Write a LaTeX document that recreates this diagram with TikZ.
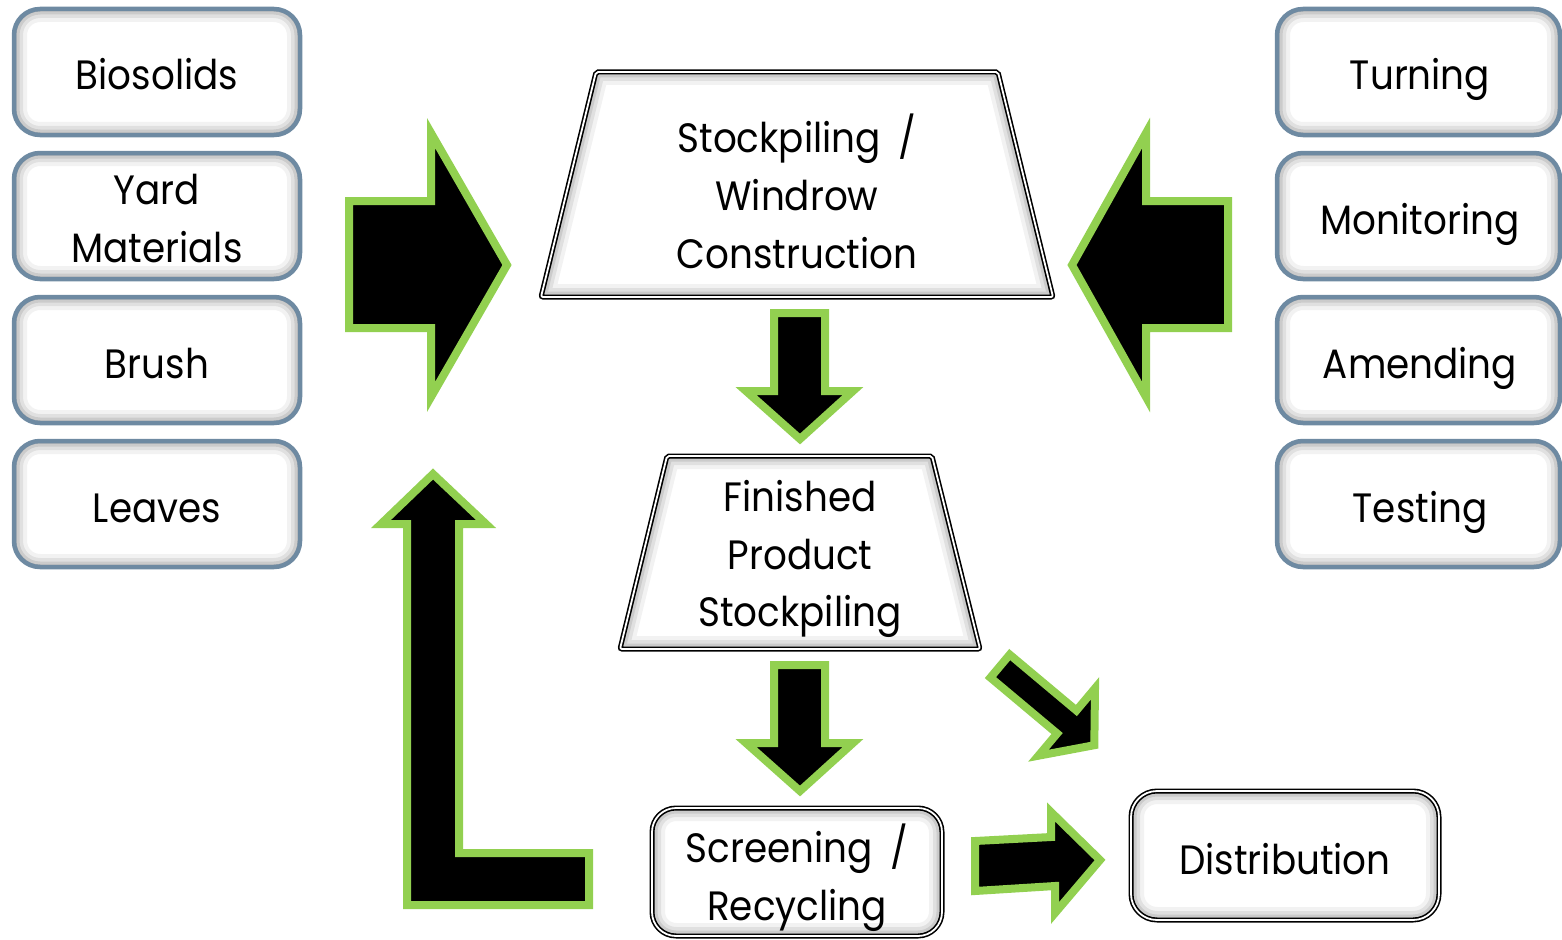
\documentclass[tikz,border=0pt]{standalone}
\usepackage{fontspec}
\setmainfont{Poppins}[FakeStretch=0.91]
\definecolor{agreen}{HTML}{92D050}
\definecolor{boxblue}{HTML}{6E8AA2}
\newcommand\lbl{\fontsize{41}{58}\selectfont}
\newcommand\innerglow[1]{%
  \begin{scope}
    \clip #1;
    \foreach \w/\o in {26/0.05,18/0.07,11/0.09,5/0.12}{\draw[line width=\w pt,black,opacity=\o] #1;}
  \end{scope}}
\tikzset{
  glow/.style={path picture={\foreach \w/\o in {26/0.05,18/0.07,11/0.09,5/0.12}{\draw[line width=\w pt,black,opacity=\o,rounded corners=#1] (path picture bounding box.south west) rectangle (path picture bounding box.north east);}}},
  bluebox/.style={draw=boxblue, line width=4.5pt, rounded corners=26pt, fill=white, minimum height=126pt, inner sep=0pt, outer sep=0pt, glow=26pt},
  dblbox/.style={draw=black, line width=1.6pt, double=white, double distance=1.8pt, rounded corners=#1, fill=white, inner sep=0pt, outer sep=0pt, glow=#1},
  dbl/.style={draw=black, line width=1.6pt, double=white, double distance=1.8pt, rounded corners=2pt},
  txt/.style={anchor=base, font=\lbl, inner sep=0pt},
  barrow/.style={fill=black, draw=agreen, line width=8pt, line join=miter, miter limit=10},
}
\begin{document}
\begin{tikzpicture}[x=1pt,y=-1pt]
\useasboundingbox (0,0) rectangle (1562,939);

% left input boxes
\node[bluebox, minimum width=286pt] (bio)   at (157,72)  {};
\node[bluebox, minimum width=286pt] (yard)  at (157,216) {};
\node[bluebox, minimum width=286pt] (brush) at (157,360) {};
\node[bluebox, minimum width=286pt] (leaf)  at (157,504) {};
\node[txt] (biot)   at (157,90)  {Biosolids};
\node[txt] (yardt1) at (157,204) {Yard};
\node[txt] (yardt2) at (157,262) {Materials};
\node[txt] (brusht) at (157,378) {Brush};
\node[txt] (leaft)  at (157,522) {Leaves};

% right process boxes
\node[bluebox, minimum width=283pt] (turn) at (1418.5,72)  {};
\node[bluebox, minimum width=283pt] (mon)  at (1418.5,216) {};
\node[bluebox, minimum width=283pt] (amd)  at (1418.5,360) {};
\node[bluebox, minimum width=283pt] (test) at (1418.5,504) {};
\node[txt] (turnt) at (1420,90)  {Turning};
\node[txt] (mont)  at (1420,234) {Monitoring};
\node[txt] (amdt)  at (1420,378) {Amending};
\node[txt] (testt) at (1420,522) {Testing};

% trapezoid 1
\coordinate (a1) at (596,72);
\coordinate (a2) at (998,72);
\coordinate (a3) at (1053,297);
\coordinate (a4) at (541,297);
\fill[white] (a1)--(a2)--(a3)--(a4)--cycle;
\innerglow{(a1)--(a2)--(a3)--(a4)--cycle}
\draw[dbl] (a1)--(a2)--(a3)--(a4)--cycle;
\node[txt] (stock1) at (797,152) {Stockpiling\hspace{8pt} /};
\node[txt] (stock2) at (797,210) {Windrow};
\node[txt] (stock3) at (797,268) {Construction};

% trapezoid 2
\coordinate (b1) at (667,456);
\coordinate (b2) at (932,456);
\coordinate (b3) at (980,649);
\coordinate (b4) at (620,649);
\fill[white] (b1)--(b2)--(b3)--(b4)--cycle;
\innerglow{(b1)--(b2)--(b3)--(b4)--cycle}
\draw[dbl] (b1)--(b2)--(b3)--(b4)--cycle;
\node[txt] (fin1) at (800,511) {Finished};
\node[txt] (fin2) at (800,569) {Product};
\node[txt] (fin3) at (800,626) {Stockpiling};

% screening and distribution
\node[dblbox=24pt, minimum width=290pt, minimum height=128pt] (scr) at (797,872) {};
\node[txt] (scrt1) at (797,862) {Screening\hspace{8pt} /};
\node[txt] (scrt2) at (797,920) {Recycling};
\node[dblbox=26pt, minimum width=308pt, minimum height=129pt] (dist) at (1285,855.5) {};
\node[txt] (distt) at (1285,874) {Distribution};

% block arrows
\draw[barrow] (349,201) -- (431,201) -- (431,133) -- (507,265) -- (431,397) -- (431,328) -- (349,328) -- cycle;
\draw[barrow] (1228,201) -- (1146,201) -- (1146,133) -- (1072,265) -- (1146,397) -- (1146,328) -- (1228,328) -- cycle;
\draw[barrow] (774,313) -- (825,313) -- (825,391) -- (853,391) -- (800,439) -- (746,391) -- (774,391) -- cycle;
\draw[barrow] (774,665) -- (825,665) -- (825,743) -- (853,743) -- (800,791) -- (746,743) -- (774,743) -- cycle;
\draw[barrow] (1009.7,654.6) -- (1076.4,710.5) -- (1095.0,688.3) -- (1094.3,745.2) -- (1038.4,755.7) -- (1057.1,733.5) -- (990.4,677.6) -- cycle;
\draw[barrow] (975,841) -- (1051,837) -- (1051,812) -- (1100,860) -- (1055,913) -- (1055,886) -- (975,891) -- cycle;
\draw[barrow] (407,905) -- (407,524) -- (381,524) -- (433,474) -- (486,524) -- (459,524) -- (459,853) -- (589,853) -- (589,905) -- cycle;
\end{tikzpicture}
\end{document}
